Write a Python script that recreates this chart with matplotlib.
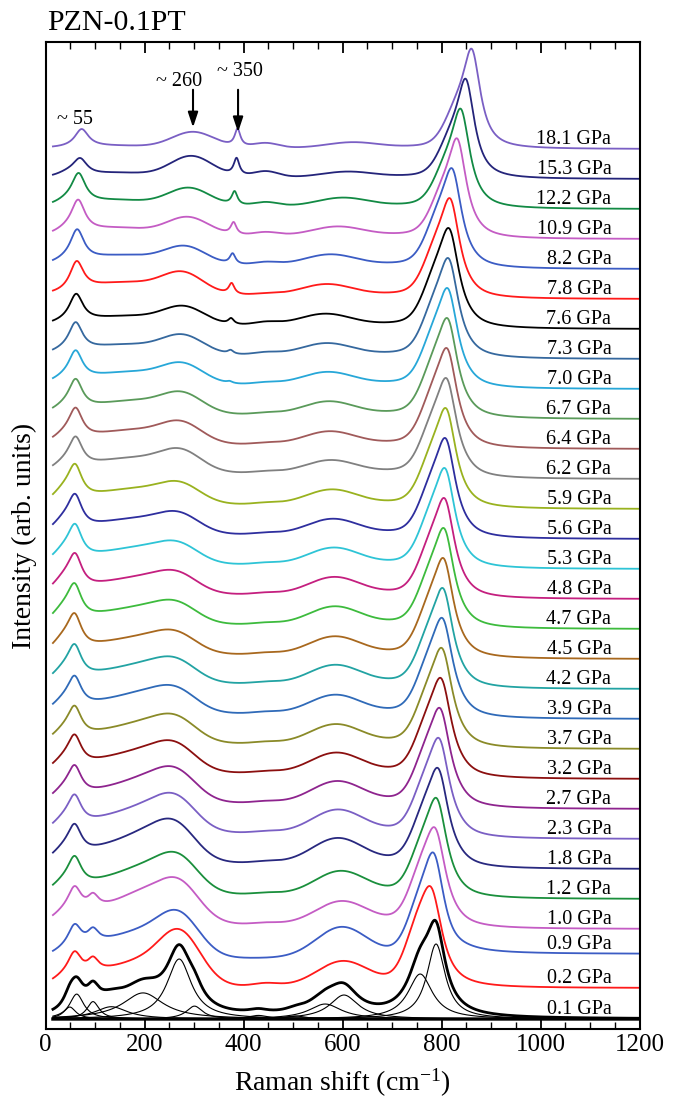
import numpy as np
import matplotlib
matplotlib.use("Agg")
import matplotlib.pyplot as plt
from matplotlib.ticker import MultipleLocator

plt.rcParams['font.family'] = ['Liberation Serif', 'DejaVu Serif']
plt.rcParams['mathtext.fontset'] = 'custom'
plt.rcParams['mathtext.rm'] = 'Liberation Serif'
plt.rcParams['mathtext.it'] = 'Liberation Serif:italic'

# ---- data -------------------------------------------------------------
pressures = [0.1, 0.2, 0.9, 1.0, 1.2, 1.8, 2.3, 2.7, 3.2, 3.7, 3.9, 4.2, 4.5, 4.7,
             4.8, 5.3, 5.6, 5.9, 6.2, 6.4, 6.7, 7.0, 7.3, 7.6, 7.8, 8.2, 10.9,
             12.2, 15.3, 18.1]
offsets = [0, 1.03, 2.17, 3.0, 4, 5, 6, 7, 8, 9, 10, 11, 12, 13, 14, 15, 16, 17,
           18, 19, 20, 21, 22, 23, 24, 25, 26, 27, 28, 29]
colors = ['#000000', '#ff1a1a', '#3b5cc4', '#c45cc4', '#1a8f3c', '#28287f',
          '#7a5fc4', '#8e248e', '#8b0f0f', '#8a8a28', '#2f6ab8', '#22a3a3',
          '#a8681e', '#3dbb3d', '#c41f7f', '#2ec4d6', '#2e2e9e', '#99b21f',
          '#808080', '#a05a5a', '#5a9a5a', '#27a7d8', '#35689e', '#000000',
          '#ff1a1a', '#3b5cc4', '#c45cc4', '#128a44', '#24247a', '#7a5fc4']

# fitted components of the 0.1 GPa spectrum (Lorentzians)
fit_pos = [49, 63, 96, 133, 197, 270, 301, 430, 505, 565, 603, 757, 789]
fit_amp = [0.4, 0.83, 0.58, 0.41, 0.87, 2.0, 0.43, 0.12, 0.1, 0.5, 0.8, 1.5, 2.5]
fit_wid = [30, 35, 30, 80, 100, 60, 40, 50, 50, 80, 70, 60, 45]

# band parameters of the spectra 0.2 ... 18.1 GPa
pos_low = [59, 59, 59, 59, 59, 59, 59, 59, 59, 59, 59, 59, 59, 60, 60, 60, 60, 61,
           61, 61, 61, 61, 62, 63, 64, 66, 67, 70, 73]
amp_l0 = [0.15, 0.1, 0.2, 0.25, 0.28, 0.28, 0.28, 0.28, 0.28, 0.28, 0.32, 0.38,
          0.38, 0.38, 0.34, 0.34, 0.34, 0.2, 0.2, 0.15, 0.12, 0.08, 0.05, 0.0, 0.08,
          0.12, 0.12, 0.12, 0.0]
amp_l1 = [0.8, 0.78, 0.85, 0.9, 0.88, 0.88, 0.88, 0.9, 0.9, 0.9, 0.94, 0.97, 0.97,
          0.97, 0.97, 0.97, 0.97, 0.92, 0.94, 0.94, 0.92, 0.92, 0.91, 0.98, 1.02,
          1.02, 0.95, 0.5, 0.6]
amp_l2 = [0.45, 0.45, 0.45, 0, 0, 0, 0, 0, 0, 0, 0, 0, 0, 0, 0, 0, 0, 0, 0, 0, 0,
          0, 0, 0, 0, 0, 0, 0, 0]
amp_b = [0.55, 0.6, 0.6, 0.55, 0.6, 0.55, 0.5, 0.5, 0.45, 0.45, 0.42, 0.4, 0.4, 0.4,
         0.4, 0.4, 0.4, 0.4, 0.38, 0.36, 0.34, 0.3, 0.26, 0.38, 0.3, 0.25, 0.2,
         0.15, 0.07]
amp_s = [0.25, 0.25, 0.4, 0.3, 0.3, 0.25, 0.25, 0.2, 0.2, 0.2, 0.18, 0.15, 0.15,
         0.15, 0.15, 0.12, 0.12, 0.1, 0.1, 0.1, 0.08, 0.05, 0.05, 0.05, 0.03, 0, 0,
         0, 0]
pos_c = [271, 268, 268, 266, 261, 262, 262, 261, 262, 262, 262, 262, 263, 264, 266,
         268, 270, 272, 273, 275, 276, 277, 279, 277, 282, 288, 290, 295, 298]
amp_c = [1.75, 1.41, 1.33, 1.2, 1.2, 1.1, 1.0, 0.87, 0.8, 0.75, 0.72, 0.66, 0.66,
         0.66, 0.65, 0.65, 0.66, 0.72, 0.7, 0.68, 0.66, 0.63, 0.6, 0.72, 0.6, 0.6,
         0.6, 0.7, 0.53]
pos_d = [370, 370, 370, 370, 370, 370, 370, 370, 370, 370, 370, 370, 370, 370, 370,
         370, 370, 370, 370, 370, 372, 374, 375, 376, 378, 380, 382, 386, 388]
amp_d = [0, 0, 0, 0, 0, 0, 0, 0, 0, 0, 0, 0, 0, 0, 0, 0, 0, 0, 0, 0, 0.06, 0.12,
         0.19, 0.36, 0.35, 0.4, 0.45, 0.57, 0.58]
amp_e = [0.1, 0.0, 0.05, 0.05, 0.05, 0.05, 0.05, 0.05, 0.05, 0.05, 0.05, 0.05, 0.05,
         0.05, 0.05, 0.05, 0.05, 0.05, 0.05, 0.05, 0.06, 0.08, 0.1, 0.05, 0.1, 0.12,
         0.14, 0.2, 0.16]
pos_f = [600, 598, 598, 596, 590, 590, 589, 587, 586, 585, 585, 584, 584, 583, 582,
         580, 578, 576, 574, 572, 570, 568, 565, 568, 575, 590, 600, 610, 620]
amp_f = [0.8, 1.0, 0.74, 0.75, 0.8, 0.75, 0.7, 0.65, 0.62, 0.6, 0.6, 0.58, 0.58,
         0.56, 0.54, 0.5, 0.48, 0.41, 0.42, 0.42, 0.4, 0.38, 0.37, 0.36, 0.35, 0.3,
         0.28, 0.18, 0.18]
pos_m = [781, 786, 789, 792, 795, 797, 799, 801, 803, 804, 805, 806, 807, 808, 809,
         810, 811, 812, 813, 814, 814.5, 816, 817, 819, 823, 833, 840, 850, 862]
amp_g1 = [1.4, 1.3, 1.3, 1.2, 1.2, 1.2, 1.2, 1.2, 1.2, 1.2, 1.2, 1.2, 1.2, 1.2, 1.2,
          1.2, 1.2, 1.2, 1.2, 1.2, 1.2, 1.2, 1.2, 1.2, 1.2, 1.1, 1.0, 1.0, 1.0]
amp_g2 = [2.5, 2.76, 2.47, 2.52, 2.47, 2.47, 2.47, 2.47, 2.49, 2.49, 2.49, 2.52,
          2.52, 2.52, 2.52, 2.52, 2.52, 2.47, 2.52, 2.52, 2.52, 2.54, 2.55, 2.55,
          2.55, 2.63, 2.7, 2.73, 2.75]
wid_m = [55, 52, 52, 50, 50, 50, 50, 50, 50, 50, 48, 48, 48, 48, 48, 48, 48, 48, 48,
         48, 48, 48, 48, 46, 46, 44, 44, 42, 42]
bg = [0.05, -0.15, 0.15, 0.15, 0.2, 0.2, 0.2, 0.2, 0.18, 0.18, 0.18, 0.15, 0.15,
      0.15, 0.15, 0.15, 0.15, 0.2, 0.15, 0.15, 0.15, 0.13, 0.12, 0.12, 0.12, 0.1,
      0.08, 0.05, 0.03]


def lor(x, p, a, w):
    return a * (w / 2) ** 2 / ((x - p) ** 2 + (w / 2) ** 2)


def gau(x, p, a, w):
    return a * np.exp(-4 * np.log(2) * (x - p) ** 2 / w ** 2)


x = np.arange(15, 1200.5, 1.0)

fig = plt.figure(figsize=(6.81, 11.09), dpi=100)
ax = fig.add_axes([45.5 / 681, 1 - 1029 / 1109, 594 / 681, 987 / 1109])

# 0.1 GPa with its fitted components
comps = [lor(x, p, a, w) for p, a, w in zip(fit_pos, fit_amp, fit_wid)]
ax.plot(x, np.zeros_like(x), color='k', lw=2.4)
for c in comps:
    ax.plot(x, c, color='k', lw=0.8)
ax.plot(x, sum(comps), color=colors[0], lw=2.0)

for k in range(len(pos_m)):
    i = k + 1
    step = 1 / (1 + np.exp((x - pos_m[k] - 45) / 12))
    y = (bg[k] * step
         + gau(x, pos_low[k] - 20, amp_l0[k], 50)
         + lor(x, pos_low[k], amp_l1[k], 34)
         + lor(x, pos_low[k] + 37, amp_l2[k], 28)
         + gau(x, 150, amp_b[k], 160)
         + gau(x, 195, amp_s[k], 90)
         + gau(x, pos_c[k], amp_c[k], 100)
         + lor(x, pos_d[k], amp_d[k], 14)
         + gau(x, 445, amp_e[k], 60)
         + gau(x, pos_f[k], amp_f[k], 120)
         + gau(x, pos_m[k] - 28, amp_g1[k], 60)
         + lor(x, pos_m[k], amp_g2[k], wid_m[k]))
    ax.plot(x, y + offsets[i], color=colors[i], lw=1.3)

for i, p in enumerate(pressures):
    ax.text(1143, offsets[i] + 0.17, '%.1f GPa' % p, ha='right', va='baseline',
            fontsize=14.5)

# peak markers
ax.text(60, 29.85, '~ 55', ha='center', va='baseline', fontsize=14.5)
ax.text(270, 31.1, '~ 260', ha='center', va='baseline', fontsize=14.5)
ax.text(393, 31.45, '~ 350', ha='center', va='baseline', fontsize=14.5)
ax.annotate('', xy=(298, 29.63), xytext=(298, 31.07),
            arrowprops=dict(arrowstyle='-|>,head_length=0.9,head_width=0.3',
                            color='k', lw=1.5))
ax.annotate('', xy=(389, 29.47), xytext=(389, 31.07),
            arrowprops=dict(arrowstyle='-|>,head_length=0.9,head_width=0.3',
                            color='k', lw=1.5))

ax.set_xlim(0, 1200)
ax.set_ylim(-0.333, 32.57)
ax.xaxis.set_major_locator(MultipleLocator(200))
ax.xaxis.set_minor_locator(MultipleLocator(50))
ax.tick_params(axis='x', which='both', direction='in', top=True, labelsize=18)
ax.tick_params(axis='x', which='major', length=8, width=1.3)
ax.tick_params(axis='x', which='minor', length=5, width=1.0)
ax.set_yticks([])
for s in ax.spines.values():
    s.set_linewidth(1.5)

ax.set_xlabel('Raman shift (cm$^{-1}$)', fontsize=20, labelpad=8)
ax.set_ylabel('Intensity (arb. units)', fontsize=20, labelpad=6)
fig.text(47 / 681, 1 - 30 / 1109, 'PZN-0.1PT', fontsize=21.5, ha='left',
         va='baseline')

fig.savefig('out.png', dpi=100)
